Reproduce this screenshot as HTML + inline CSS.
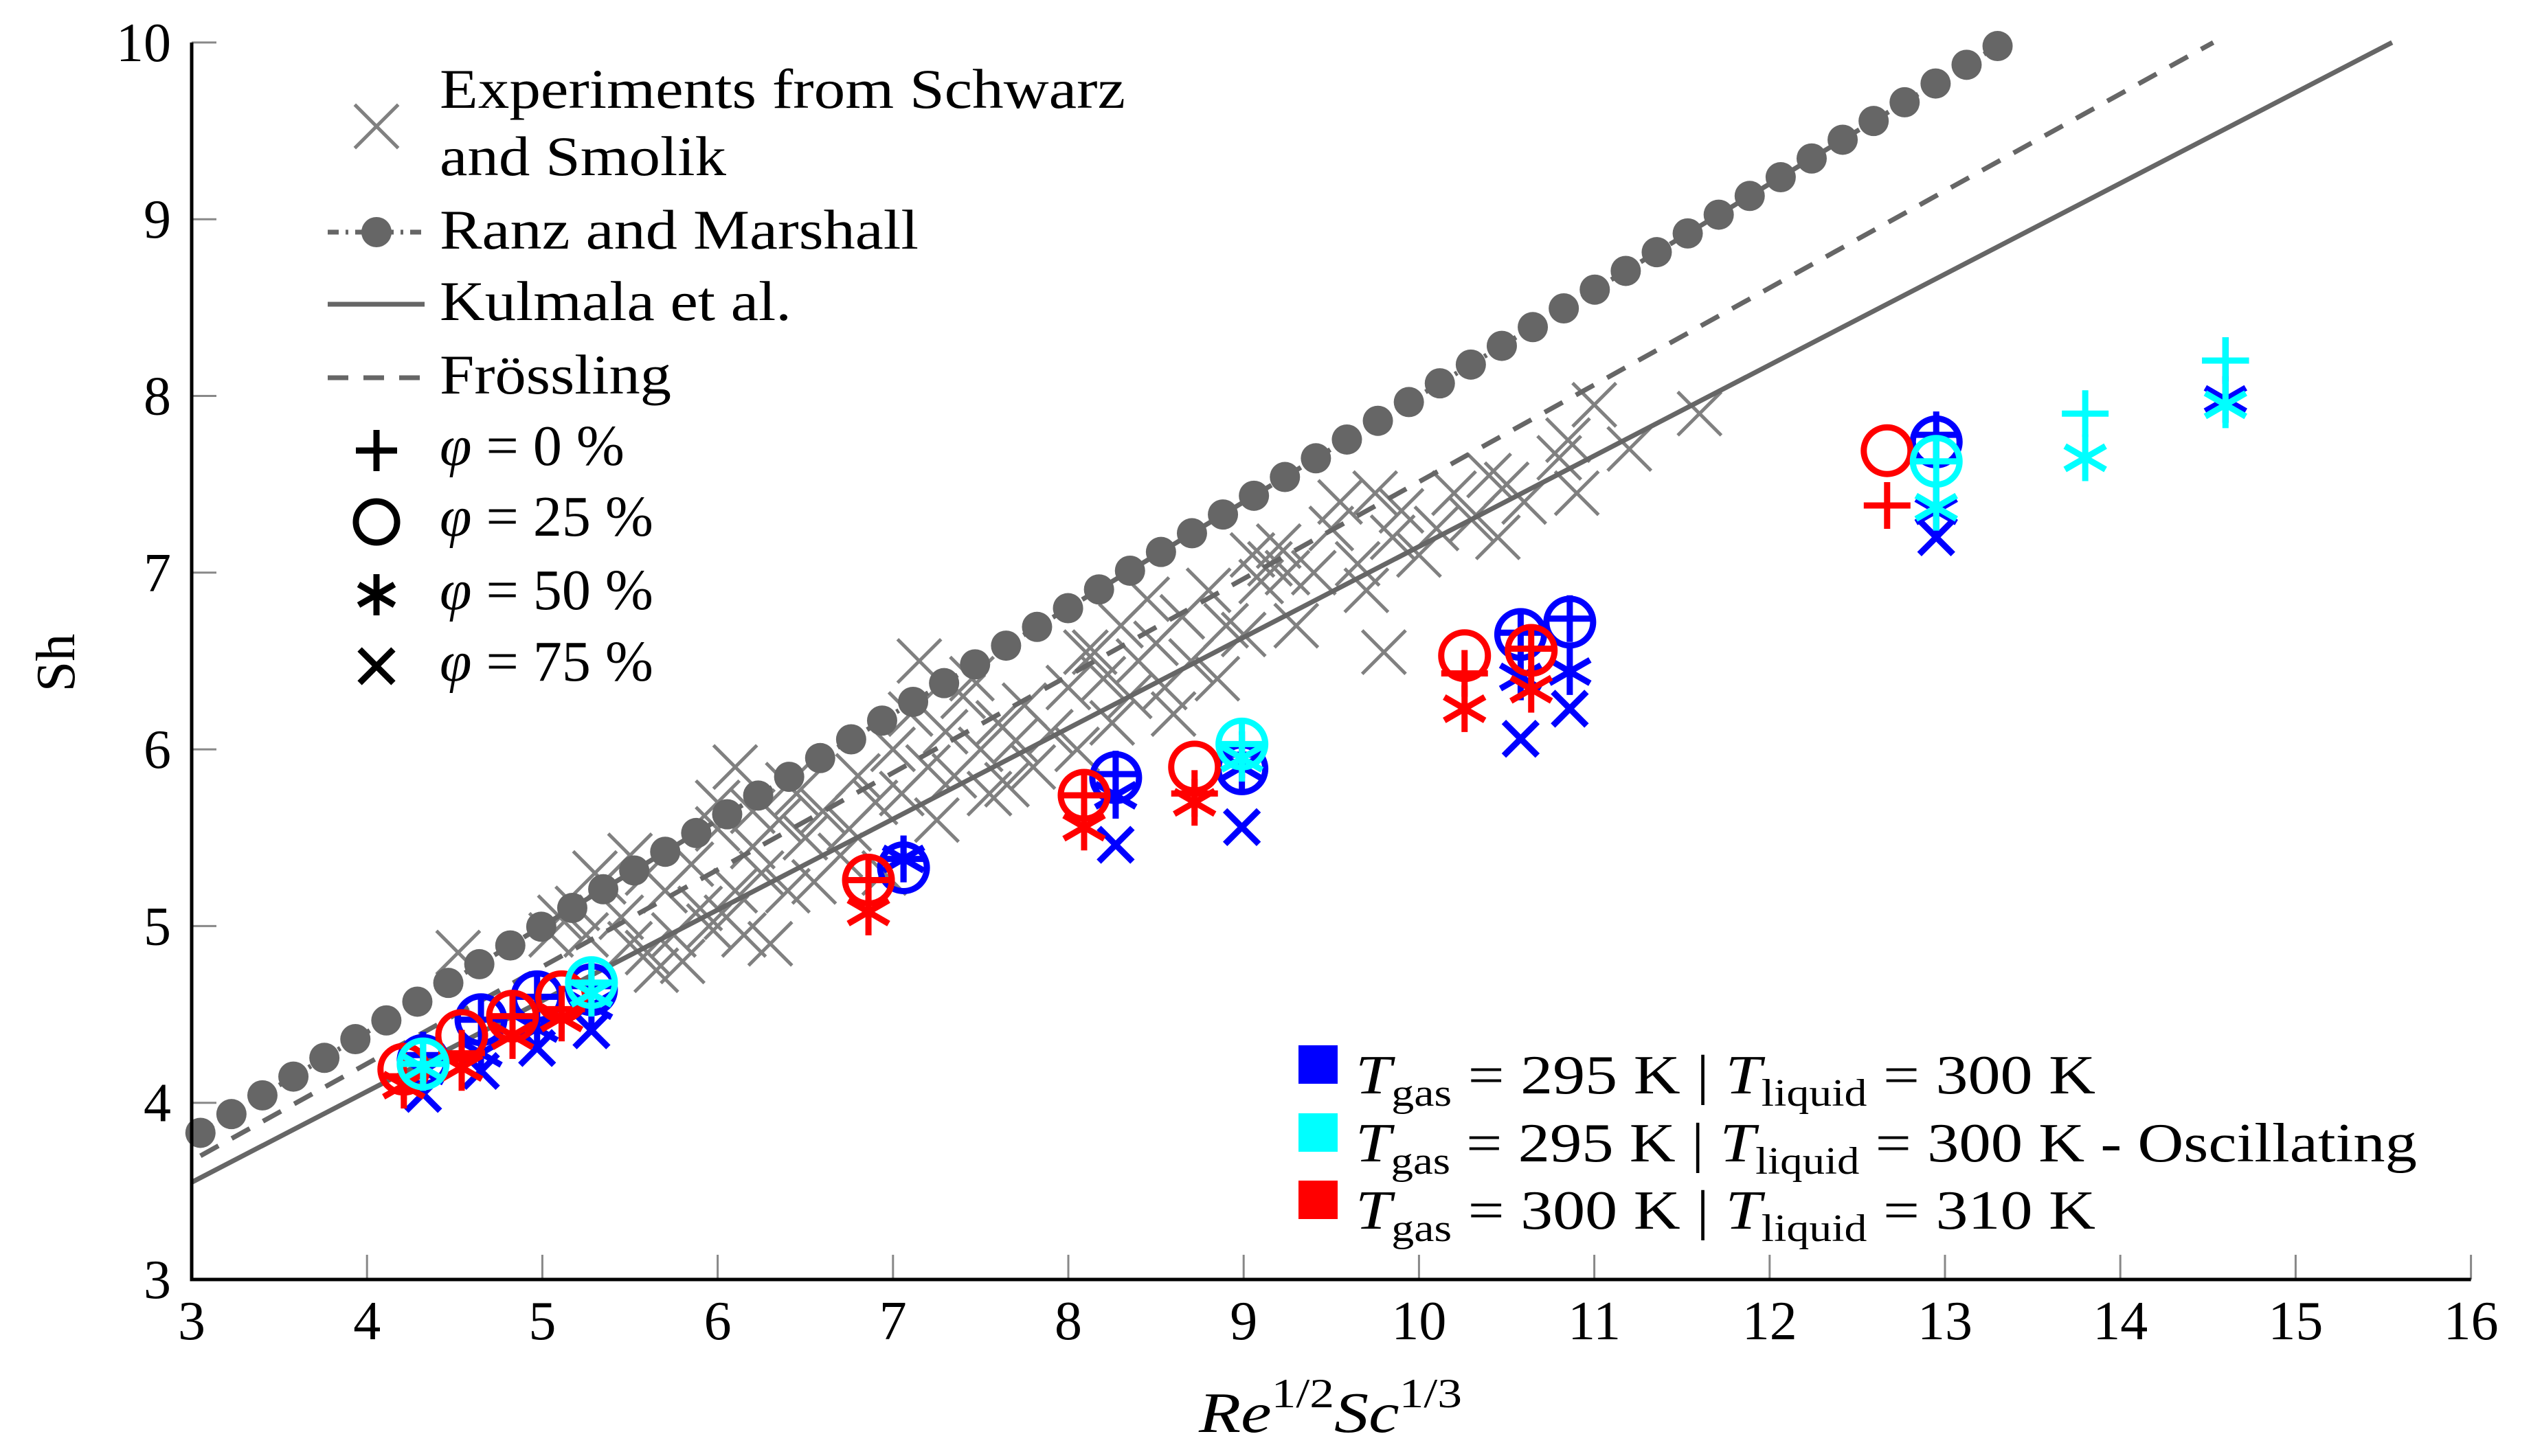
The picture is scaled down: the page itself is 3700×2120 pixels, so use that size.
<!DOCTYPE html>
<html><head><meta charset="utf-8"><style>
html,body{margin:0;padding:0;background:#fff;}
svg{display:block;}
svg text{font-family:"Liberation Serif","DejaVu Serif",serif;}
</style></head><body>
<svg id="chart" width="3700" height="2120" viewBox="0 0 3700 2120" xmlns="http://www.w3.org/2000/svg" font-family="Liberation Serif, serif">
<g id="plot"></g>
<g id="axes"></g>
<text x="0" y="0" font-size="80" transform="translate(108,965) rotate(-90)" text-anchor="middle">Sh</text>
<text x="1745" y="2085" font-size="84" font-style="italic" textLength="383" lengthAdjust="spacingAndGlyphs">Re<tspan font-style="normal" font-size="60" dy="-36">1/2</tspan><tspan dy="36">Sc</tspan><tspan font-style="normal" font-size="60" dy="-36">1/3</tspan></text>
<g id="legend1"></g>
<g id="legend2">
 <rect x="1890" y="1522" width="57" height="56" fill="#0000ff"/>
 <rect x="1890" y="1621" width="57" height="56" fill="#00ffff"/>
 <rect x="1890" y="1719" width="57" height="56" fill="#ff0000"/>
 <text x="1973" y="1592" font-size="80" textLength="1077" lengthAdjust="spacingAndGlyphs"><tspan font-style="italic">T</tspan><tspan font-size="56" dy="18">gas</tspan><tspan dy="-18"> = 295 K | </tspan><tspan font-style="italic">T</tspan><tspan font-size="56" dy="18">liquid</tspan><tspan dy="-18"> = 300 K</tspan></text>
 <text x="1973" y="1691" font-size="80" textLength="1545" lengthAdjust="spacingAndGlyphs"><tspan font-style="italic">T</tspan><tspan font-size="56" dy="18">gas</tspan><tspan dy="-18"> = 295 K | </tspan><tspan font-style="italic">T</tspan><tspan font-size="56" dy="18">liquid</tspan><tspan dy="-18"> = 300 K - Oscillating</tspan></text>
 <text x="1973" y="1789" font-size="80" textLength="1077" lengthAdjust="spacingAndGlyphs"><tspan font-style="italic">T</tspan><tspan font-size="56" dy="18">gas</tspan><tspan dy="-18"> = 300 K | </tspan><tspan font-style="italic">T</tspan><tspan font-size="56" dy="18">liquid</tspan><tspan dy="-18"> = 310 K</tspan></text>
</g>
</svg>
<script>
const xTicks=[3,4,5,6,7,8,9,10,11,12,13,14,15,16];
const yTicks=[3,4,5,6,7,8,9,10];
const ranzLine=[[3.05,3.83],[13.3,9.98]];
const kulmalaLine=[[3.0,3.55],[15.55,10.0]];
const froesslingLine=[[3.05,3.70],[14.53,10.0]];
const ranzDotCount=59;
const expX=[4.52,5.05,5.2,5.25,5.35,5.45,5.5,5.6,5.65,5.7,5.75,5.8,5.85,5.9,5.95,6.0,6.05,6.1,6.15,6.2,6.25,6.3,6.35,6.4,6.45,6.5,6.55,6.6,6.7,6.75,6.8,6.9,6.95,7.0,7.05,7.1,7.15,7.2,7.25,7.3,7.35,7.4,7.5,7.55,7.6,7.65,7.7,7.75,7.8,7.9,8.0,8.05,8.1,8.2,8.25,8.3,8.35,8.4,8.45,8.5,8.55,8.6,8.65,8.7,8.8,8.85,8.9,9.0,9.05,9.1,9.15,9.2,9.3,9.4,9.5,9.55,9.65,9.7,9.75,9.8,9.85,9.9,10.0,10.1,10.2,10.3,10.45,10.5,10.6,10.8,10.9,11.0,11.2,11.6,10.85,6.0,6.2,6.4,5.5,5.6,5.3,5.1,6.1,7.45,8.15,9.25,10.4];
const expY=[4.85,4.95,5.1,4.95,5.25,5.05,4.9,4.85,4.75,5.2,4.95,4.8,5.35,5.1,5.0,5.55,5.05,5.2,4.95,5.45,5.3,4.9,5.6,5.2,5.75,5.5,5.25,5.65,5.4,5.55,5.85,5.7,5.3,6.0,5.75,6.2,6.5,5.9,5.6,6.1,5.85,6.3,6.0,5.75,6.15,5.8,6.05,6.25,5.9,6.1,6.35,6.0,6.55,6.4,6.15,6.7,6.3,6.5,6.85,6.6,6.35,6.2,6.75,6.5,6.9,6.4,6.7,6.65,7.1,6.95,7.05,7.15,6.7,7.0,7.25,7.4,7.05,6.9,7.45,6.55,7.2,7.35,7.1,7.25,7.45,7.3,7.2,7.5,7.4,7.65,7.45,7.95,7.7,7.9,7.75,5.7,5.65,5.8,5.4,5.3,5.3,5.05,5.9,6.4,6.55,7.0,7.55];
const blueX=[4.32,4.65,4.97,5.28,7.06,8.27,8.99,10.58,10.86,12.95,14.6];
const bluePlus=[4.27,4.47,4.6,4.66,5.38,5.86,5.97,6.66,6.74,7.78,8.2];
const blueCirc=[4.24,4.47,4.6,4.64,5.33,5.84,5.89,6.65,6.72,7.74,null];
const blueAst=[4.18,4.28,4.42,4.55,5.38,5.74,5.9,6.41,6.44,7.35,7.98];
const blueCross=[4.05,4.18,4.31,4.41,null,5.46,5.56,6.06,6.23,7.2,null];
const cyanX=[4.32,5.28,8.99,12.95,13.8,14.6];
const cyanPlus=[4.22,4.68,6.03,7.63,7.9,8.2];
const cyanCirc=[4.22,4.68,6.03,7.63,null,null];
const cyanAst=[4.2,4.62,5.95,7.37,7.65,7.95];
const cyanCross=[null,null,null,null,null,null];
const redX=[4.21,4.54,4.83,5.11,6.86,8.09,8.72,10.26,10.64,12.67];
const redPlus=[4.15,4.28,4.49,4.53,5.26,5.74,5.75,6.43,6.57,7.38];
const redCirc=[4.19,4.38,4.49,4.6,5.26,5.74,5.9,6.53,6.56,7.69];
const redAst=[4.1,4.2,4.38,4.48,5.08,5.56,5.7,6.23,6.34,null];
const redCross=[null,null,null,null,null,null,null,null,null,null];

const X0=279,XU=255.2,Y0=1863,YU=257.3;
function sx(v){return X0+(v-3)*XU;}
function sy(v){return Y0-(v-3)*YU;}
const NS='http://www.w3.org/2000/svg';
function mk(tag,attrs,parent){const e=document.createElementNS(NS,tag);for(const k in attrs)e.setAttribute(k,attrs[k]);parent.appendChild(e);return e;}
const plot=document.getElementById('plot'),axes=document.getElementById('axes'),leg=document.getElementById('legend1');

function plus(g,cx,cy,c,s){mk('path',{d:`M${cx-s},${cy}H${cx+s}M${cx},${cy-s}V${cy+s}`,stroke:c,'stroke-width':9,fill:'none'},g);}
function circ(g,cx,cy,c,s){mk('circle',{cx:cx,cy:cy,r:s-4,stroke:c,'stroke-width':9,fill:'none'},g);}
function ast(g,cx,cy,c,s){const a=s*0.866,b=s*0.5;mk('path',{d:`M${cx},${cy-s}V${cy+s}M${cx-a},${cy-b}L${cx+a},${cy+b}M${cx-a},${cy+b}L${cx+a},${cy-b}`,stroke:c,'stroke-width':9,fill:'none'},g);}
function cross(g,cx,cy,c,s,w){const d=s*0.72;mk('path',{d:`M${cx-d},${cy-d}L${cx+d},${cy+d}M${cx-d},${cy+d}L${cx+d},${cy-d}`,stroke:c,'stroke-width':w||9,fill:'none'},g);}

const ge=mk('g',{},plot);


expX.forEach((v,i)=>{cross(ge,sx(v),sy(expY[i]),'#808080',44,5);});

function line(arr,dash,name){const p=mk('path',{d:`M${sx(arr[0][0])},${sy(arr[0][1])}L${sx(arr[1][0])},${sy(arr[1][1])}`,stroke:'#666','stroke-width':7,fill:'none'},plot);if(dash)p.setAttribute('stroke-dasharray',dash);

}
line(kulmalaLine,null,'kulmala-line');
line(froesslingLine,'30 22','froessling-line');
line(ranzLine,'22 12 4 12','ranz-marshall-line');
const gd=mk('g',{},plot);


for(let i=0;i<ranzDotCount;i++){const t=i/(ranzDotCount-1);const xv=ranzLine[0][0]+t*(ranzLine[1][0]-ranzLine[0][0]);const yv=ranzLine[0][1]+t*(ranzLine[1][1]-ranzLine[0][1]);mk('circle',{cx:sx(xv),cy:sy(yv),r:22,fill:'#666'},gd);}

function series(xs,p,c,a,x,col,name){const g=mk('g',{},plot);


xs.forEach((v,i)=>{const X=sx(v);
if(x[i]!=null)cross(g,X,sy(x[i]),col,34);
if(a[i]!=null)ast(g,X,sy(a[i]),col,34);
if(c[i]!=null)circ(g,X,sy(c[i]),col,38);
if(p[i]!=null)plus(g,X,sy(p[i]),col,34);});}
series(blueX,bluePlus,blueCirc,blueAst,blueCross,'#0000ff','series-295-300');
series(redX,redPlus,redCirc,redAst,redCross,'#ff0000','series-300-310');
series(cyanX,cyanPlus,cyanCirc,cyanAst,cyanCross,'#00ffff','series-295-300-oscillating');

xTicks.forEach(v=>{if(v>3)mk('line',{x1:sx(v),x2:sx(v),y1:Y0,y2:Y0-36,stroke:'#888','stroke-width':3},axes);
const t=mk('text',{x:sx(v),y:1950,'font-size':80,'text-anchor':'middle'},axes);t.textContent=v;

});
yTicks.forEach(v=>{if(v>3)mk('line',{x1:X0,x2:X0+36,y1:sy(v),y2:sy(v),stroke:'#888','stroke-width':3},axes);
const t=mk('text',{x:249,y:sy(v)+27,'font-size':80,'text-anchor':'end'},axes);t.textContent=v;

});
mk('path',{d:`M${X0},${sy(10)}V${Y0}H${sx(16)}`,stroke:'#000','stroke-width':5,fill:'none'},axes);

const LX=640,SX=548;
function ltext(y,txt,name,w){const t=mk('text',{x:LX,y:y,'font-size':82,textLength:w,lengthAdjust:'spacingAndGlyphs'},leg);t.textContent=txt;

return t;}
cross(leg,SX,184,'#808080',44,5);
ltext(157,'Experiments from Schwarz','legend-entry-experiments',998);ltext(255,'and Smolik','legend-entry-experiments-2',417);
mk('path',{d:'M477,338H618',stroke:'#666','stroke-width':7,'stroke-dasharray':'16 10 4 10'},leg);mk('circle',{cx:SX,cy:338,r:22,fill:'#666'},leg);
ltext(362,'Ranz and Marshall','legend-entry-ranz',697);
mk('path',{d:'M477,443H618',stroke:'#666','stroke-width':7},leg);ltext(466,'Kulmala et al.','legend-entry-kulmala',512);
mk('path',{d:'M477,550H618',stroke:'#666','stroke-width':7,'stroke-dasharray':'30 22'},leg);ltext(573,'Frössling','legend-entry-froessling',337);
plus(leg,SX,656,'#000',30);circ(leg,SX,760,'#000',34);ast(leg,SX,866,'#000',30);cross(leg,SX,970,'#000',34);
[[677,'0'],[780,'25'],[887,'50'],[991,'75']].forEach(([y,v])=>{const t=mk('text',{x:LX,y:y,'font-size':84},leg);


const a=mk('tspan',{'font-style':'italic'},t);a.textContent='φ';const b=mk('tspan',{},t);b.textContent=' = '+v+' %';});
</script>
</body></html>
